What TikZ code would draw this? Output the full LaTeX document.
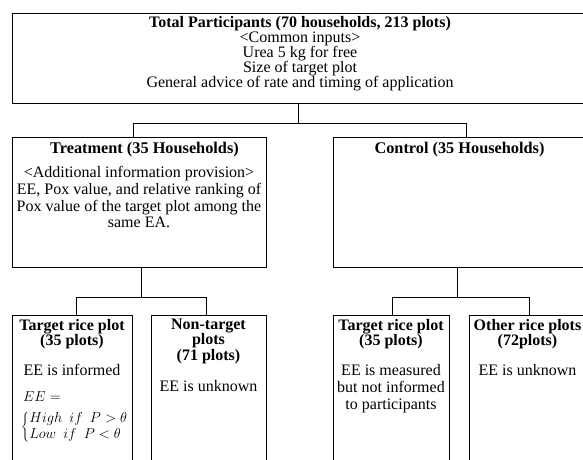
\documentclass[tikz,border=0pt]{standalone}
\usepackage{fontspec}
\setmainfont{Liberation Serif}
\begin{document}
\begin{tikzpicture}[x=1pt,y=-1pt,
  box/.style={draw, line width=0.8pt, rectangle, inner sep=0pt, anchor=north west},
  conn/.style={line width=1pt},
  ln/.style={inner sep=0pt, anchor=base},
  bigf/.style={font=\fontsize{16}{16.5}\selectfont},
  bigb/.style={font=\fontsize{16}{16.5}\selectfont\bfseries},
  bigb2/.style={font=\fontsize{16.3}{16.5}\selectfont\bfseries},
  mathf/.style={inner sep=0pt, font=\fontsize{14.5}{16}\selectfont}]
\useasboundingbox (0,0) rectangle (583,459);
\clip (0,0) rectangle (583,459);
% boxes
\node[box, minimum width=578pt, minimum height=90pt] (top) at (12,13) {};
\node[box, minimum width=254pt, minimum height=130pt] (treat) at (12,137) {};
\node[box, minimum width=253pt, minimum height=130pt] (ctrl) at (333,137) {};
\node[box, minimum width=120pt, minimum height=170pt] (tt) at (12,315) {};
\node[box, minimum width=115pt, minimum height=170pt] (nt) at (151,315) {};
\node[box, minimum width=116pt, minimum height=170pt] (ct) at (333,315) {};
\node[box, minimum width=117pt, minimum height=170pt] (ot) at (469,315) {};
% connectors
\coordinate (j1) at (298,123);
\coordinate (a1) at (133,123);
\coordinate (a2) at (466,123);
\draw[conn] (top.south -| j1) -- (j1);
\draw[conn] (treat.north -| a1) -- (a1) -- (a2) -- (ctrl.north -| a2);
\coordinate (j2) at (141,297);
\coordinate (b1) at (76,297);
\coordinate (b2) at (206,297);
\draw[conn] (treat.south -| j2) -- (j2);
\draw[conn] (tt.north -| b1) -- (b1) -- (b2) -- (nt.north -| b2);
\coordinate (j3) at (457,297);
\coordinate (c1) at (392,297);
\coordinate (c2) at (529,297);
\draw[conn] (ctrl.south -| j3) -- (j3);
\draw[conn] (ct.north -| c1) -- (c1) -- (c2) -- (ot.north -| c2);
% top text
\node[ln, bigb] (t1) at (300,27.5) {Total Participants (70 households, 213 plots)};
\node[ln, bigf] (t2) at (300,42.5) {<Common inputs>};
\node[ln, bigf] (t3) at (300,57.5) {Urea 5 kg for free};
\node[ln, bigf] (t4) at (300,72.5) {Size of target plot};
\node[ln, bigf] (t5) at (300,87.5) {General advice of rate and timing of application};
% treatment
\node[ln, bigb2] (r1) at (144.5,153) {Treatment (35 Households)};
\node[ln, bigf] (r2) at (139,177) {<Additional information provision>};
\node[ln, bigf] (r3) at (139,194) {EE, Pox value, and relative ranking of};
\node[ln, bigf] (r4) at (139,211) {Pox value of the target plot among the};
\node[ln, bigf] (r5) at (139,227) {same EA.};
% control
\node[ln, bigb2] (k1) at (459.5,153) {Control (35 Households)};
% treatment target
\node[ln, bigb] (p1) at (72,330) {Target rice plot};
\node[ln, bigb] (p2) at (72,345.5) {(35 plots)};
\node[ln, bigf] (p3) at (72,375) {EE is informed};
\node[mathf, anchor=base west] (p4) at (23,401) {$EE =$};
\node[mathf, anchor=west] (p5) at (21,427)
  {$\left\{\begin{array}{@{}l@{}}High\ \ if\ \ P>\theta\\ Low\ \ if\ \ P<\theta\end{array}\right.$};
% non-target
\node[ln, bigb] (n1) at (208.5,329) {Non-target};
\node[ln, bigb] (n2) at (208.5,344.5) {plots};
\node[ln, bigb] (n3) at (208.5,360) {(71 plots)};
\node[ln, bigf] (n4) at (208.5,391) {EE is unknown};
% control target
\node[ln, bigb] (q1) at (391,330) {Target rice plot};
\node[ln, bigb] (q2) at (391,345.5) {(35 plots)};
\node[ln, bigf] (q3) at (391,375) {EE is measured};
\node[ln, bigf] (q4) at (391,392) {but not informed};
\node[ln, bigf] (q5) at (391,409) {to participants};
% other
\node[ln, bigb] (o1) at (527.5,330) {Other rice plots};
\node[ln, bigb] (o2) at (527.5,345.5) {(72plots)};
\node[ln, bigf] (o3) at (527.5,375) {EE is unknown};
\end{tikzpicture}
\end{document}
